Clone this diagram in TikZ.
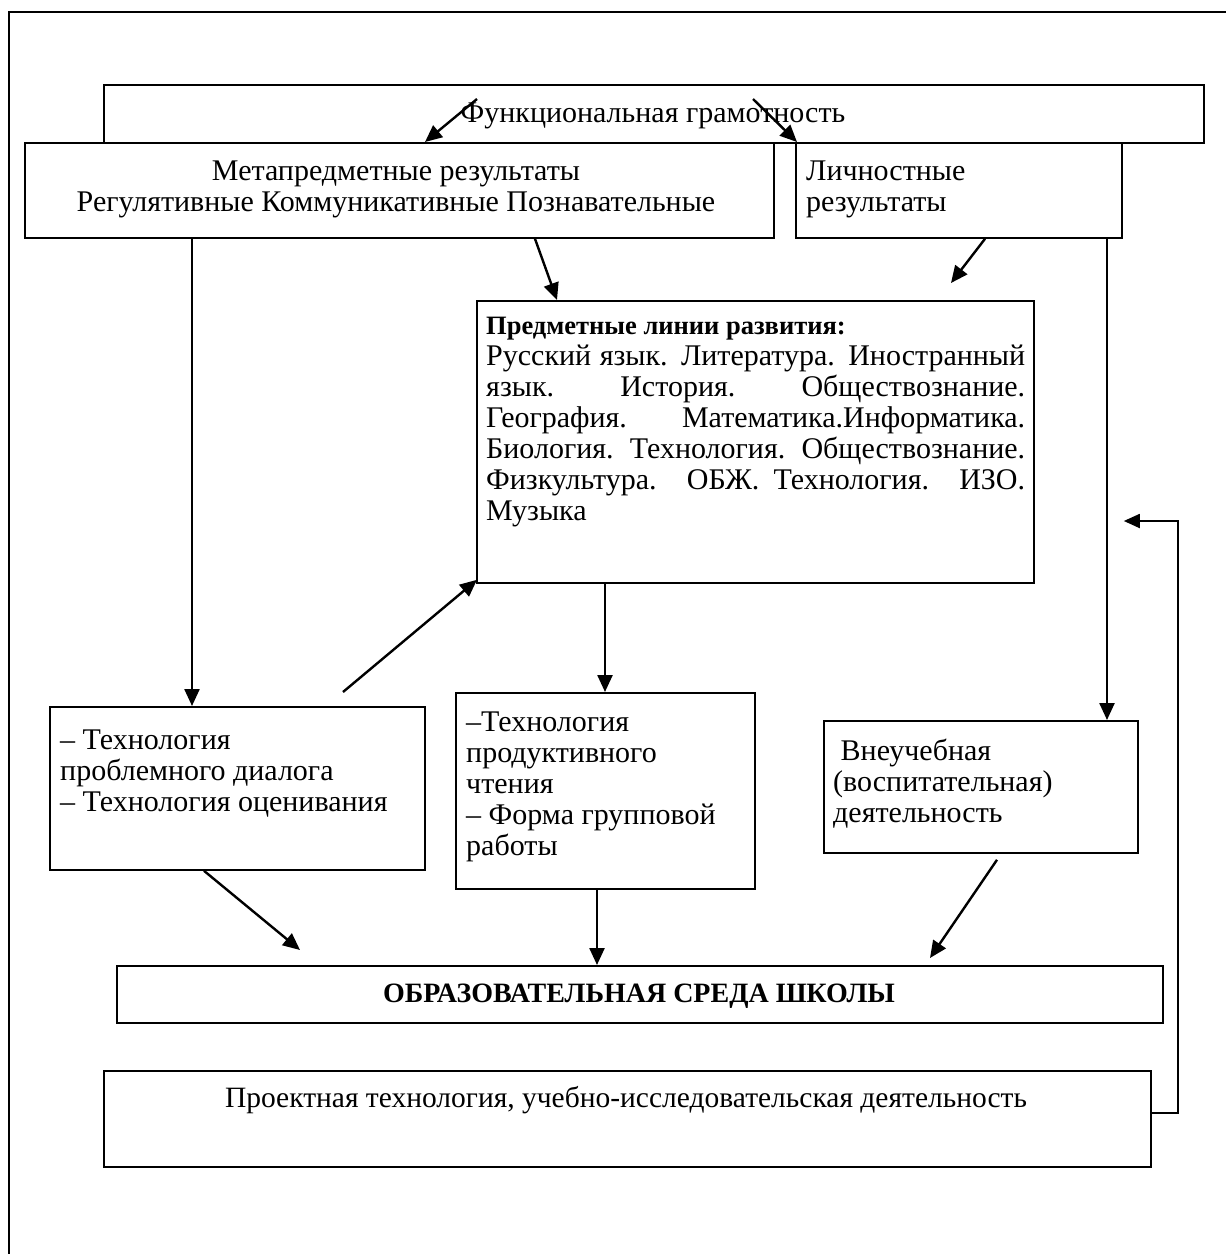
\documentclass[tikz,border=0pt]{standalone}
\usepackage{fontspec}
\setmainfont{Liberation Serif}
\usetikzlibrary{arrows.meta,calc}
\begin{document}
\begin{tikzpicture}[x=1pt,y=-1pt,
  box/.style={draw,line width=1.8pt,rectangle,inner sep=0pt,anchor=north west},
  lbl/.style={inner sep=0pt,font=\fontsize{30}{31}\selectfont},
  small lbl/.style={inner sep=0pt,font=\fontsize{26.5}{31}\selectfont},
  arr/.style={line width=2.4pt,-{Triangle[length=17pt,width=15pt]}},
  thin arr/.style={line width=1.8pt,-{Triangle[length=16pt,width=14pt]}},
]
\useasboundingbox (0,0) rectangle (1226,1254);
\fill[white] (0,0) rectangle (1226,1254);
\draw[line width=1.8pt] (9,1260) -- (9,12) -- (1232,12);

% boxes
\node[box,minimum width=1100pt,minimum height=58pt] (fg) at (103,84) {};
\node[box,minimum width=749pt,minimum height=95pt] (meta) at (24,142) {};
\node[box,minimum width=326pt,minimum height=95pt] (lich) at (795,142) {};
\node[box,minimum width=557pt,minimum height=282pt] (pred) at (476,300) {};
\node[box,minimum width=375pt,minimum height=163pt] (left) at (49,706) {};
\node[box,minimum width=299pt,minimum height=196pt] (mid) at (455,692) {};
\node[box,minimum width=314pt,minimum height=132pt] (vneu) at (823,720) {};
\node[box,minimum width=1046pt,minimum height=57pt] (obr) at (116,965) {};
\node[box,minimum width=1047pt,minimum height=96pt] (proj) at (103,1070) {};

% texts
\node[lbl,anchor=base] (tfg) at (653,122) {Функциональная грамотность};
\node[lbl,anchor=base] (tmeta) at (396,180) {\parbox[t]{745pt}{\centering Метапредметные результаты\\ Регулятивные Коммуникативные Познавательные}};
\node[lbl,anchor=base west] (tlich) at (806,180) {\parbox[t]{300pt}{Личностные\\ результаты}};
\node[small lbl,anchor=base west] (tpredh) at (486,334) {\textbf{Предметные линии развития:}};
\node[lbl,anchor=base west] (tpred) at (486,365) {\parbox[t]{539pt}{%
\makebox[\linewidth][s]{Русский язык. Литература. Иностранный}\\
\makebox[\linewidth][s]{язык. История. Обществознание.}\\
\makebox[\linewidth][s]{География. Математика.Информатика.}\\
\makebox[\linewidth][s]{Биология. Технология. Обществознание.}\\
\makebox[\linewidth][s]{Физкультура. ОБЖ. Технология. ИЗО.}\\
Музыка}};
\node[lbl,anchor=base west] (tleft) at (60,749) {\parbox[t]{360pt}{– Технология\\ проблемного диалога\\ – Технология оценивания}};
\node[lbl,anchor=base west] (tmid) at (466,731) {\parbox[t]{285pt}{–Технология\\ продуктивного\\ чтения\\ – Форма групповой\\ работы}};
\node[lbl,anchor=base west] (tvneu) at (833,760) {\parbox[t]{300pt}{\ Внеучебная\\ (воспитательная)\\ деятельность}};
\node[small lbl,anchor=base,font=\fontsize{28}{31}\selectfont] (tobr) at (639,1002) {\textbf{ОБРАЗОВАТЕЛЬНАЯ СРЕДА ШКОЛЫ}};
\node[lbl,anchor=base,font=\fontsize{29.5}{31}\selectfont] (tproj) at (626,1107) {Проектная технология, учебно-исследовательская деятельность};

% connectors
\draw[arr] ([shift={(374,15)}]fg.north west) -- ([shift={(401,0)}]meta.north west);
\draw[arr] ([shift={(650,15)}]fg.north west) -- ([shift={(2,0)}]lich.north west);
\draw[arr] ([shift={(168,0)}]meta.south west) -- ([shift={(143,0)}]left.north west);
\draw[arr] ([shift={(511,0)}]meta.south west) -- ([shift={(81,0)}]pred.north west);
\draw[arr] ([shift={(190,0)}]lich.south west) -- ([shift={(475,-17)}]pred.north west);
\draw[arr] ([shift={(312,0)}]lich.south west) -- ([shift={(284,0)}]vneu.north west);
\draw[arr] ([shift={(294,-14)}]left.north west) -- ([shift={(1,-4)}]pred.south west);
\draw[arr] ([shift={(129,0)}]pred.south west) -- ([shift={(150,0)}]mid.north west);
\draw[arr] ([shift={(155,0)}]left.south west) -- ([shift={(184,-15)}]obr.north west);
\draw[arr] ([shift={(142,0)}]mid.south west) -- ([shift={(481,0)}]obr.north west);
\draw[arr] ([shift={(174,6)}]vneu.south west) -- ([shift={(814,-7)}]obr.north west);
\coordinate (fbk) at ([shift={(1,379)}]lich.north east);
\draw[thin arr] ([shift={(0,43)}]proj.north east) -- ++(26,0) |- (fbk);
\end{tikzpicture}
\end{document}
